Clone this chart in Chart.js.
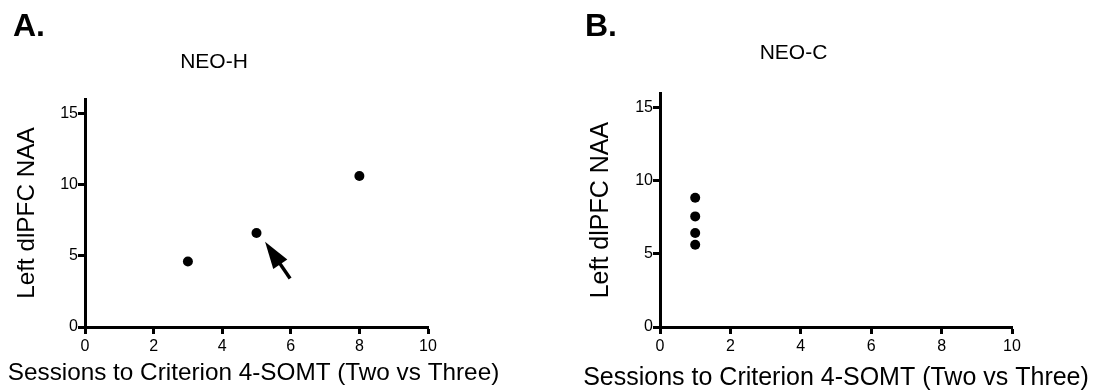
<!DOCTYPE html>
<html>
<head>
<meta charset="utf-8">
<title>Left dlPFC NAA vs Sessions to Criterion</title>
<script src="https://cdn.jsdelivr.net/npm/chart.js@4.4.1/dist/chart.umd.min.js"></script>
<style>
    body { margin: 0; background: #fff; }
    .panel { position: absolute; top: 0; width: 548px; height: 391px; }
    .panel-label {
        position: absolute;
        font-family: 'Liberation Sans', Arial, sans-serif;
        font-weight: bold;
        font-size: 32px;
        line-height: 32px;
        color: #000;
    }
</style>
</head>
<body>
<div class="panel" style="left:0"><canvas id="neoHChart" width="548" height="391"></canvas></div>
<div class="panel" style="left:548px"><canvas id="neoCChart" width="548" height="391"></canvas></div>
<div class="panel-label" style="left:13px; top:9px">A.</div>
<div class="panel-label" style="left:585px; top:9px">B.</div>

<script>
// Chart data
const xTicks = [0, 2, 4, 6, 8, 10];
const yTicks = [0, 5, 10, 15];

const neoHSessions = [3, 5, 8];
const neoHNaa = [4.6, 6.6, 10.6];

const neoCSessions = [1, 1, 1, 1];
const neoCNaa = [8.85, 7.57, 6.43, 5.63];

// arrow pointing at the middle NEO-H animal (data units)
const arrowFrom = [5.98, 3.4];
const arrowTo = [5.25, 5.98];

const xTitle = 'Sessions to Criterion 4-SOMT (Two vs Three)';
const yTitle = 'Left dlPFC NAA';

const fontFamily = "'Liberation Sans', Arial, sans-serif";
Chart.defaults.font.family = fontFamily;
Chart.defaults.color = '#000';

/**
 * Draws the arrow annotation in panel A
 */
const arrowPlugin = {
    id: 'arrow',
    afterDatasetsDraw(chart, args, opts) {
        if (!opts.from) return;
        const ctx = chart.ctx;
        const xs = chart.scales.x;
        const ys = chart.scales.y;
        const x1 = xs.getPixelForValue(opts.from[0]);
        const y1 = ys.getPixelForValue(opts.from[1]);
        const x2 = xs.getPixelForValue(opts.to[0]);
        const y2 = ys.getPixelForValue(opts.to[1]);
        const ang = Math.atan2(y2 - y1, x2 - x1);
        const headLen = 27;
        const headHalf = 8.5;
        const bx = x2 - headLen * Math.cos(ang);
        const by = y2 - headLen * Math.sin(ang);

        ctx.save();
        ctx.strokeStyle = '#000';
        ctx.fillStyle = '#000';
        ctx.lineWidth = 3.5;
        ctx.beginPath();
        ctx.moveTo(x1, y1);
        ctx.lineTo(bx + 4 * Math.cos(ang), by + 4 * Math.sin(ang));
        ctx.stroke();

        ctx.beginPath();
        ctx.moveTo(x2, y2);
        ctx.lineTo(bx + headHalf * Math.sin(ang), by - headHalf * Math.cos(ang));
        ctx.lineTo(bx - headHalf * Math.sin(ang), by + headHalf * Math.cos(ang));
        ctx.closePath();
        ctx.fill();
        ctx.restore();
    }
};

/**
 * X axis title drawn at full width (the built-in one gets squeezed
 * to the width of the axis)
 */
const xTitlePlugin = {
    id: 'xTitle',
    afterDraw(chart, args, opts) {
        const ctx = chart.ctx;
        const area = chart.chartArea;
        ctx.save();
        ctx.font = opts.size + 'px ' + fontFamily;
        ctx.fillStyle = '#000';
        ctx.textAlign = 'center';
        ctx.textBaseline = 'alphabetic';
        ctx.fillText(opts.text, (area.left + area.right) / 2 + (opts.shift || 0), opts.baseline);
        ctx.restore();
    }
};

function toPoints(xs, ys) {
    return xs.map((x, i) => ({ x: x, y: ys[i] }));
}

function createPanel(canvasId, cfg) {
    const ctx = document.getElementById(canvasId);
    return new Chart(ctx, {
        type: 'scatter',
        data: {
            datasets: [{
                data: toPoints(cfg.xs, cfg.ys),
                backgroundColor: '#000',
                borderWidth: 0,
                pointRadius: 5,
                pointHoverRadius: 5
            }]
        },
        options: {
            responsive: false,
            animation: false,
            devicePixelRatio: 1,
            layout: {
                padding: cfg.padding
            },
            plugins: {
                legend: { display: false },
                tooltip: { enabled: false },
                title: {
                    display: true,
                    text: cfg.title,
                    font: { size: 21, weight: 'normal' },
                    padding: cfg.titlePadding
                },
                arrow: cfg.arrow || {},
                xTitle: { text: xTitle, size: cfg.axisFont, baseline: cfg.xTitleBaseline, shift: cfg.xTitleShift }
            },
            scales: {
                x: {
                    type: 'linear',
                    min: 0,
                    max: 10,
                    afterBuildTicks: function(scale) {
                        scale.ticks = xTicks.map(v => ({ value: v }));
                    },
                    afterFit: function(scale) {
                        scale.height = 64;
                    },
                    grid: {
                        drawOnChartArea: false,
                        tickLength: 7,
                        tickWidth: 3,
                        tickColor: '#000'
                    },
                    border: { color: '#000', width: 3 },
                    ticks: {
                        font: { size: 16 },
                        padding: 3,
                        maxRotation: 0
                    }
                },
                y: {
                    type: 'linear',
                    min: 0,
                    max: 16,
                    afterBuildTicks: function(scale) {
                        scale.ticks = yTicks.map(v => ({ value: v }));
                    },
                    afterFit: function(scale) {
                        scale.width = 85;
                    },
                    grid: {
                        drawOnChartArea: false,
                        tickLength: 7,
                        tickWidth: 3,
                        tickColor: '#000'
                    },
                    border: { color: '#000', width: 3 },
                    ticks: {
                        font: { size: 16 },
                        padding: 0
                    },
                    title: {
                        display: true,
                        text: yTitle,
                        font: { size: cfg.axisFont },
                        padding: { top: cfg.yTitlePad, bottom: 0 }
                    }
                }
            }
        },
        plugins: [arrowPlugin, xTitlePlugin]
    });
}

document.addEventListener('DOMContentLoaded', function() {
    createPanel('neoHChart', {
        title: 'NEO-H',
        xs: neoHSessions,
        ys: neoHNaa,
        padding: { left: 0, right: 120, top: 0, bottom: 0 },
        titlePadding: { top: 50, bottom: 24 },
        axisFont: 24.3,
        xTitleBaseline: 380,
        xTitleShift: -3,
        yTitlePad: 13,
        arrow: { from: arrowFrom, to: arrowTo }
    });

    createPanel('neoCChart', {
        title: 'NEO-C',
        xs: neoCSessions,
        ys: neoCNaa,
        padding: { left: 27, right: 84, top: 0, bottom: 0 },
        titlePadding: { top: 41, bottom: 27 },
        axisFont: 25,
        xTitleBaseline: 385,
        xTitleShift: 0,
        yTitlePad: 11
    });
});
</script>
</body>
</html>
